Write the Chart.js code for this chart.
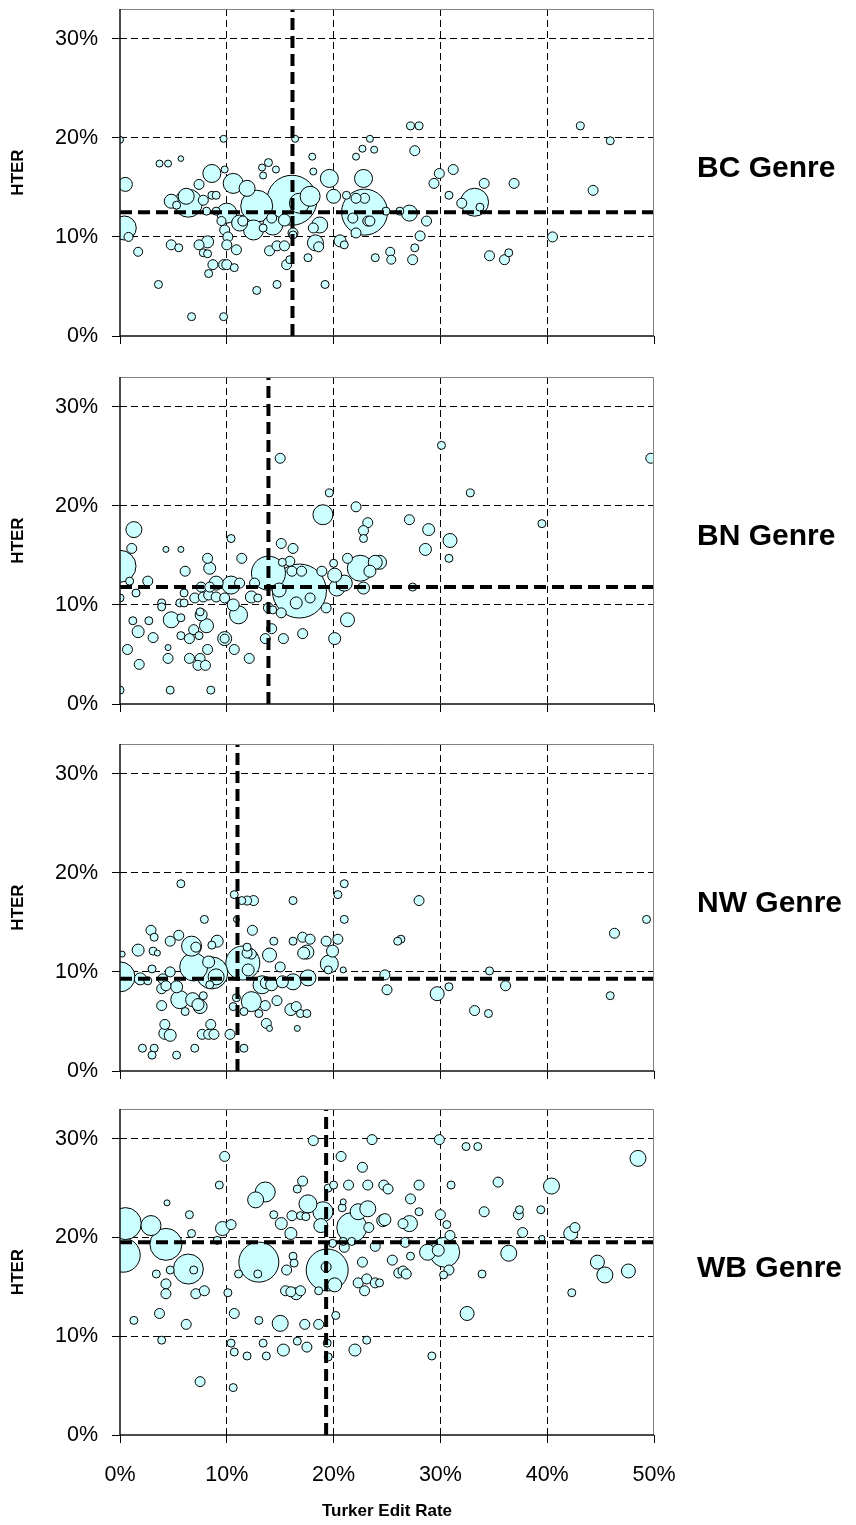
<!DOCTYPE html>
<html><head><meta charset="utf-8">
<script src="https://cdn.jsdelivr.net/npm/chart.js@4.4.1/dist/chart.umd.min.js"></script>
<style>
html,body{margin:0;padding:0;background:#fff;}
#wrap{position:relative;width:856px;height:1525px;overflow:hidden;background:#fff;}
canvas{position:absolute;left:0;}
.genre{position:absolute;left:697px;font:bold 30px 'Liberation Sans',Arial,sans-serif;color:#000;white-space:nowrap;transform:translateY(-50%);}
</style></head><body><div id="wrap">
<canvas id="c0" width="856" height="348" style="top:0px;width:856px;height:348px"></canvas>
<canvas id="c1" width="856" height="348" style="top:368px;width:856px;height:348px"></canvas>
<canvas id="c2" width="856" height="348" style="top:735px;width:856px;height:348px"></canvas>
<canvas id="c3" width="856" height="425" style="top:1100px;width:856px;height:425px"></canvas>
<div class="genre" id="g0" style="top:167px"></div>
<div class="genre" id="g1" style="top:535px"></div>
<div class="genre" id="g2" style="top:902px"></div>
<div class="genre" id="g3" style="top:1267px"></div>
</div>
<script>
// ---- axis ticks ----
const xTicks = [0, 10, 20, 30, 40, 50];
const yTicks = [0, 10, 20, 30];
const xMax = 50, yMax = 33;
const genres = ['BC Genre', 'BN Genre', 'NW Genre', 'WB Genre'];
const xTitle = 'Turker Edit Rate';
const yTitle = 'HTER';

// ---- BC genre (Turker edit rate %, HTER %, bubble size) ----
const bcX = [0,9.7,16.4,3.7,4.5,5.7,18.0,23.4,22.7,23.8,22.1,13.9,13.3,14.6,9.8,8.6,19.6,22.8,18.1,13.4,10.6,11.9,0.5,0.4,0.8,1.7,4.8,5.5,7.4,8.2,7.8,8.2,8.7,9.7,10.0,8.3,10.7,3.6,6.7,9.7,12.8,14.7,19.2,15.6,15.9,17.6,14.0,14.7,15.4,16.2,18.3,18.7,20.6,21.0,22.1,23.2,21.8,22.9,22.9,16.1,6.4,4.8,6.2,12.8,11.2,12.5,14.3,15.4,16.8,17.8,20.0,10.0,9.8,10.1,10.0,10.9,8.6,9.0,7.8,7.4,8.1,9.0,9.5,11.5,13.4,14.2,16.2,18.1,18.6,21.2,22.1,23.4,24.9,26.2,23.9,25.3,25.4,27.1,28.7,28.1,27.6,27.4,29.4,29.9,31.2,30.8,32.0,33.7,33.2,34.1,36.9,44.3,40.5,34.6,36.0,36.4,27.2,28.0,27.6,43.1,45.9,5.3];
const bcY = [19.8,19.9,19.9,17.4,17.4,17.9,18.1,19.9,18.9,18.8,18.1,17.5,17.0,16.8,16.8,16.4,15.9,15.9,16.6,16.2,15.4,14.9,15.3,10.9,10.0,8.5,9.2,8.9,9.2,9.5,8.4,8.3,7.2,7.2,7.2,6.3,6.9,5.2,1.95,1.95,4.6,5.2,5.2,7.2,7.7,7.9,8.6,9.1,9.1,10.4,9.4,11.2,9.6,9.2,10.4,11.6,11.9,13.9,12.5,13.7,13.4,13.6,14.1,13.1,11.4,10.7,11.2,11.7,13.4,14.1,14.1,12.4,10.7,10.0,9.2,8.7,14.2,14.2,13.7,15.3,12.6,12.6,11.6,11.6,10.9,11.9,10.2,10.9,9.0,14.2,13.9,11.6,12.6,12.6,7.9,8.5,7.7,12.4,11.6,10.1,8.9,7.7,15.4,16.4,16.8,14.2,13.4,13.0,13.5,15.4,15.4,14.7,10.0,8.1,7.7,8.4,21.2,21.2,18.7,21.2,19.7,13.2];
const bcSize = [3.5,3.5,3.5,3.5,3.5,2.8,3.5,3.5,3.5,3.5,3.5,4,3.5,3.5,3.5,9,9,9,3.5,3.5,10,8,7,12,4.5,4.5,5,4,5,6,4,4,5,5,5,4,4,4,4,4,4,4,4,5,4,4,5,5,5,5,8,8,6,4,5,5,5,5,23,25,14,7,8,16,8,10,10,6,10,10,7,10,5,5,5,5,4,4,5,5,4,4,4.5,5,4,5,4,5,5,4,5,5,4,4,4,4.5,4.5,8,5,5,4,5,5,5,5,4,5,4,14,5,5,5,5,5,5,4,4,4,5,4,4,4];
const bcMeanX = 16.15, bcMeanY = 12.5;

// ---- BN genre ----
const bnX = [15.0,19.6,19.0,22.1,23.2,22.8,22.8,1.3,10.4,15.1,16.2,1.1,4.3,5.7,30.1,32.8,49.7,27.1,28.9,30.9,28.6,39.5,30.8,27.4,24.3,0,0.9,0,2.6,1.5,1.2,2.7,1.7,3.1,0.7,1.8,0,4.7,8.5,4.5,4.5,6.5,7.5,7.3,8.0,8.2,9.8,9.8,10.7,12.1,5.7,6.5,7.4,6.9,8.1,7.6,7.5,4.8,5.7,3.9,3.9,5.6,6.0,6.0,6.1,8.2,8.4,7.0,7.8,8.3,7.6,8.4,9.0,9.0,9.8,10.4,10.6,11.1,11.2,11.4,12.3,12.6,12.9,13.9,15.2,15.9,16.1,17.0,16.8,16.5,17.8,14.9,13.9,14.3,15.1,14.2,13.6,15.3,17.1,20.1,21.3,19.3,18.9,20.0,20.1,21.3,20.3,21.0,22.5,23.4,23.9,22.8];
const bnY = [24.8,21.3,19.1,19.9,18.3,17.5,16.7,17.6,16.7,16.2,15.7,15.7,15.6,15.6,26.1,21.3,24.8,18.6,17.6,16.5,15.6,18.2,14.7,11.8,14.3,13.9,12.4,10.7,12.4,11.2,8.4,8.4,7.3,6.7,5.5,4.0,1.4,1.4,1.4,5.7,4.6,4.6,4.6,3.9,3.9,5.5,6.6,6.6,5.5,4.6,6.9,6.6,6.9,7.5,7.9,9.0,9.3,8.5,8.7,10.2,9.8,10.2,10.2,11.2,13.4,14.7,13.7,10.7,10.8,11.0,11.8,11.8,12.2,10.8,10.7,12.0,10.0,9.0,12.2,14.7,10.8,12.2,10.7,13.2,14.3,14.4,13.4,13.4,11.4,10.2,10.7,11.5,9.7,9.5,9.2,7.6,6.6,6.6,7.1,6.6,8.5,9.7,13.4,14.2,13.0,14.7,11.7,12.2,13.7,13.4,14.3,11.7];
const bnSize = [5,4,10,5,5,5,4,8,4,5,5,5,3,3,4,4,5,5,6,7,6,4,4,4,7,16,4,4,5,4,4,4,6,5,5,5,4,4,4,3,5,5,5,5,5,5,7,4.5,5,5,4,5,4,5,7,6,4,8,4,4,4,4,4,4,5,5,6,5,5,5,5,5,7,5,5,9,6,9,5,5,6,5,4,17,4,5,5,5,27,6,5,7,5,4,5,5,5,5,5,6,7,5,5,4,7,5,8,8,13,6,7,6];
const bnMeanX = 13.9, bnMeanY = 11.8;

// ---- NW genre ----
const nwX = [5.7,10.7,11.4,11.9,12.5,16.2,20.4,21.0,21.0,7.9,10.9,12.4,2.9,3.2,5.5,4.7,1.7,3.1,3.5,0.2,6.7,7.1,8.6,9.1,14.4,16.2,17.1,17.8,19.3,20.4,19.9,19.6,19.5,20.9,17.2,11.9,12.3,14.0,15.0,0,1.9,2.6,3.0,4.7,4.0,6.9,8.6,8.3,9.0,8.4,11.5,12.0,11.9,13.3,13.7,14.2,15.2,16.2,17.6,5.3,3.9,4.3,5.6,6.8,7.5,7.3,7.8,6.1,3.9,4.2,4.2,4.7,7.7,8.3,8.8,8.5,10.3,2.1,3.2,3.0,5.3,7.0,11.6,10.6,10.9,11.6,12.3,13.0,13.6,13.7,14.0,14.7,16.0,16.5,16.9,17.5,16.6,17.5,28.0,26.3,26.0,24.8,25.0,29.7,30.8,34.6,36.1,33.2,34.5,46.3,49.3,45.9];
const nwY = [18.9,17.8,17.2,17.2,17.2,17.2,17.8,18.9,15.3,15.3,15.3,14.2,14.2,13.5,13.7,13.1,12.2,12.1,11.9,11.8,12.6,12.5,12.7,13.1,13.1,13.1,13.5,13.3,13.1,13.3,12.1,10.8,10.2,10.2,11.9,12.5,11.8,11.7,10.5,9.5,9.3,9.1,10.3,10.0,9.3,10.5,9.9,11.0,9.5,8.7,10.9,10.2,11.9,8.7,8.9,8.7,9.0,9.0,9.4,8.5,8.3,8.6,7.2,7.2,6.5,6.7,7.6,6.0,6.6,4.7,3.8,3.6,3.7,3.7,3.7,4.7,3.7,2.3,2.3,1.6,1.6,2.3,2.3,6.5,7.4,6.0,7.0,5.8,6.6,4.8,4.3,7.1,6.2,6.5,5.8,5.8,4.3,12.0,17.2,13.3,13.1,9.7,8.2,7.8,8.5,10.1,8.6,6.1,5.8,13.9,15.3,7.6];
const nwSize = [4,4,4,4.5,5,4,4,4,4,4,3,5,5,4,5,5,6,4,3,3,10,5,4,6,4,4,5,5,5,5,6,9,4,3,6,4,5,7,5,15,6,4,4,5,5,14,16,6,8,4,17,6,5,9,6,6,6,8,8,6,5,5,9,7,7,6,4,4,5,5,6,6,5,5,5,5,5,4,4,4,4,4,4,4,4,4,10,4,5,5,3,5,6,5,4,4,3,7,5,4,4,5,5,7,4,4,5,5,4,5,4,4];
const nwMeanX = 11.0, nwMeanY = 9.3;

// ---- WB genre ----
const wbX = [18.1,23.6,9.8,20.7,22.7,17.1,16.6,19.5,20.0,21.4,23.2,24.7,25.1,9.3,4.4,6.5,13.6,12.7,14.4,15.1,16.1,16.9,17.4,16.0,17.6,19.0,18.8,20.9,20.8,21.7,22.3,23.2,23.3,24.6,6.7,9.6,10.4,9.1,2.9,0.5,0.3,4.3,6.4,6.9,4.7,3.4,4.3,4.3,7.1,7.9,10.1,3.7,1.3,6.2,3.9,10.7,7.5,10.6,10.4,10.7,11.9,13.0,13.4,13.7,15.0,15.3,16.6,17.5,17.3,18.6,19.4,19.5,20.2,22.0,23.1,13.0,12.9,11.1,15.6,16.2,16.3,15.5,16.0,16.5,16.9,18.6,19.4,19.3,20.1,22.7,22.3,23.1,23.9,22.9,19.9,21.0,20.9,21.7,23.9,29.9,32.4,33.5,48.5,40.4,35.4,31.0,28.0,27.2,28.0,24.8,27.1,26.5,30.0,30.6,34.1,37.3,37.4,39.4,37.7,39.5,42.2,42.6,30.9,30.4,28.8,29.8,30.8,30.3,36.4,26.7,25.5,27.2,26.1,26.5,26.8,33.9,24.3,32.5,29.2,42.3,44.7,45.4,47.6];
const wbY = [29.8,29.9,28.2,28.2,27.1,25.7,24.9,25.0,25.3,25.3,25.3,25.3,24.9,25.3,23.5,22.3,24.6,23.8,22.3,21.4,22.2,22.2,22.1,20.4,23.4,22.6,21.2,23.6,23.0,21.0,22.6,22.9,21.0,21.7,20.4,20.9,21.3,19.7,21.2,21.4,18.2,19.3,16.8,16.7,16.7,16.3,15.3,14.3,14.3,14.6,14.4,12.3,11.6,11.2,9.6,12.3,5.4,4.8,9.3,8.4,8.0,11.6,9.3,8.0,11.3,8.6,9.5,8.9,11.2,11.2,9.3,7.9,12.1,8.6,9.6,17.5,16.3,16.3,16.7,18.1,17.4,14.6,14.5,14.3,14.6,14.6,16.7,17.0,15.2,17.5,15.4,15.8,15.4,14.6,19.4,19.0,19.6,19.6,19.1,29.9,29.2,29.2,28.0,25.2,25.6,25.3,25.3,23.9,22.6,21.8,21.4,21.4,22.3,21.3,22.6,22.3,22.8,22.8,20.5,19.9,20.4,21.0,20.2,18.5,18.5,18.7,16.7,16.2,18.4,19.5,17.7,18.1,16.4,16.6,16.3,16.3,15.4,12.3,8.0,14.4,17.5,16.2,16.6];
const wbSize = [5,5,5,5,5,5,4,4,4,5,5,5,5,4,3,4,10,8,4,6,5,4,4,6,9,10,7,3,4,15,8,8,5,6,4,7,5,4,10,16,17,16,15,4,4,4,5,5,5,5,4,5,4,5,4,5,5,4,4,4,4,4,4,4,8,6,4,5,5,5,4,4,4,6,4,20,4,4,5,4,4,5,5,6,5,4,21,5,7,5,5,5,5,5,4,5,4,4,5,5,4,4,8,8,5,4,5,5,4,6,8,5,5,4,5,5,4,4,5,3,7,5,5,15,8,6,5,4,8,5,5,4,5,5,5,4,4,7,4,4,7,8,7];
const wbMeanX = 19.3, wbMeanY = 19.5;

const FONT = "'Liberation Sans', Arial, sans-serif";
const bubbleFill = '#CCFFFF';

genres.forEach((g, i) => { document.getElementById('g' + i).textContent = g; });

const framePlugin = {
  id: 'frame',
  afterDatasetsDraw(chart) {
    const {ctx, chartArea: a} = chart;
    ctx.save();
    ctx.lineWidth = 1; ctx.strokeStyle = '#808080';
    ctx.beginPath();
    ctx.moveTo(a.left, a.top + 0.5); ctx.lineTo(a.right - 0.5, a.top + 0.5); ctx.lineTo(a.right - 0.5, a.bottom);
    ctx.stroke();
    ctx.lineWidth = 1.5; ctx.strokeStyle = '#111';
    ctx.beginPath();
    ctx.moveTo(a.left, a.top); ctx.lineTo(a.left, a.bottom); ctx.lineTo(a.right, a.bottom);
    ctx.stroke();
    ctx.restore();
  }
};

function makeChart(id, xs, ys, sizes, meanX, meanY, plotH, isLast) {
  const canvas = document.getElementById(id);
  const H = canvas.height;
  const order = xs.map((_, i) => i).sort((a, b) => sizes[b] - sizes[a]);
  const pts = order.map(i => ({x: xs[i], y: ys[i], r: sizes[i]}));
  const xAxisH = H - 9 - plotH - (isLast ? 0 : 4);
  const edgeX = c => (c.tick && (c.tick.value === 0 || c.tick.value === xMax)) ? 'rgba(0,0,0,0)' : '#000';
  const edgeY = c => (c.tick && c.tick.value === 0) ? 'rgba(0,0,0,0)' : '#000';
  const meanLine = {borderColor: '#000', borderWidth: 4, borderDash: [12, 6], pointRadius: 0, fill: false, clip: 0, order: 0, tension: 0};
  return new Chart(canvas, {
    type: 'bubble',
    data: {
      datasets: [
        Object.assign({type: 'line', data: [{x: 0, y: meanY}, {x: xMax, y: meanY}]}, meanLine),
        Object.assign({type: 'line', data: [{x: meanX, y: 0}, {x: meanX, y: yMax}]}, meanLine),
        {type: 'bubble', data: pts, backgroundColor: bubbleFill, borderColor: '#000', borderWidth: 1, clip: 0, order: 1}
      ]
    },
    options: {
      responsive: false, animation: false, devicePixelRatio: 1,
      layout: {autoPadding: false, padding: {top: 9, left: 0, right: 202, bottom: isLast ? 0 : 4}},
      plugins: {legend: {display: false}, tooltip: {enabled: false}},
      elements: {point: {hoverRadius: 0}},
      scales: {
        x: {
          type: 'linear', min: 0, max: xMax,
          afterBuildTicks: s => { s.ticks = xTicks.map(v => ({value: v})); },
          afterFit: s => { s.height = xAxisH; s.paddingLeft = 0; s.paddingRight = 0; },
          grid: {color: edgeX, lineWidth: 1, drawTicks: true, tickLength: 8, tickColor: '#000', tickWidth: 1},
          border: {display: false, dash: [7, 4]},
          ticks: {display: isLast, padding: 19, color: '#000', font: {family: FONT, size: 21.5}, callback: v => v + '%', maxRotation: 0},
          title: {display: isLast, text: xTitle, color: '#000', font: {family: FONT, size: 17, weight: 'bold'}, padding: {top: 0, bottom: 3}}
        },
        y: {
          type: 'linear', min: 0, max: yMax,
          afterBuildTicks: s => { s.ticks = yTicks.map(v => ({value: v})); },
          afterFit: s => { s.width = 120; s.paddingTop = 0; s.paddingBottom = 0; },
          grid: {color: edgeY, lineWidth: 1, drawTicks: true, tickLength: 8, tickColor: '#000', tickWidth: 1},
          border: {display: false, dash: [7, 4]},
          ticks: {padding: 14, color: '#000', font: {family: FONT, size: 21.5}, callback: v => v + '%'},
          title: {display: true, text: yTitle, color: '#000', font: {family: FONT, size: 17, weight: 'bold'}, padding: {top: 8, bottom: 0}}
        }
      }
    },
    plugins: [framePlugin]
  });
}

makeChart('c0', bcX, bcY, bcSize, bcMeanX, bcMeanY, 327, false);
makeChart('c1', bnX, bnY, bnSize, bnMeanX, bnMeanY, 327, false);
makeChart('c2', nwX, nwY, nwSize, nwMeanX, nwMeanY, 327, false);
makeChart('c3', wbX, wbY, wbSize, wbMeanX, wbMeanY, 326, true);
</script>
</body></html>
